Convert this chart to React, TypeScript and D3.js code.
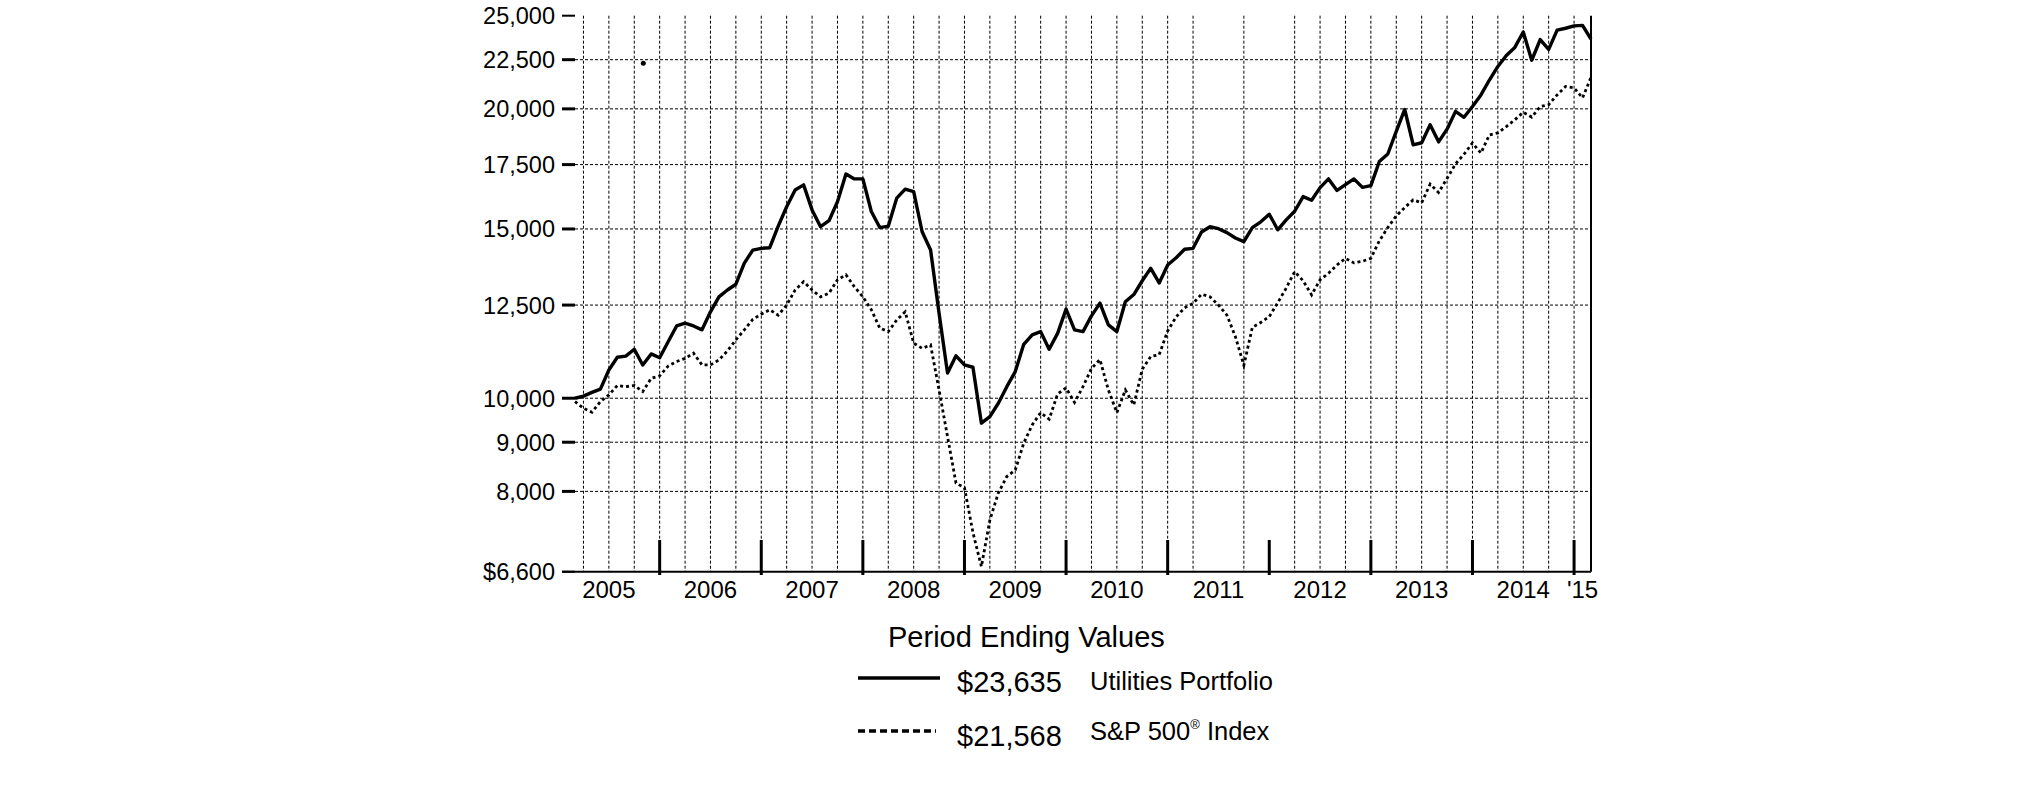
import React from "react";
import * as d3 from "d3";

// Monthly period-ending values, Feb 2005 .. Feb 2015 (121 months)
const startMonth = "2005-02";
const utilities: number[] = [
  10000, 10050, 10140, 10220, 10700, 11030, 11060, 11245, 10830, 11120, 11020,
  11450, 11890, 11970, 11890, 11780, 12300, 12750, 12960, 13140, 13820, 14260, 14320,
  14340, 15100, 15820, 16470, 16670, 15700, 15080, 15300, 16010, 17110, 16910, 16910,
  15640, 15050, 15100, 16150, 16500, 16400, 14900, 14260, 12260, 10620, 11070, 10830,
  10770, 9420, 9570, 9880, 10280, 10660, 11380, 11640, 11730, 11245, 11680, 12380,
  11780, 11730, 12180, 12560, 11920, 11730, 12600, 12820, 13250, 13650, 13180, 13760,
  14000, 14290, 14320, 14890, 15080, 15010, 14870, 14680, 14550, 15050, 15260, 15540,
  14970, 15330, 15650, 16210, 16070, 16560, 16910, 16450, 16680, 16910, 16570, 16640,
  17630, 17950, 18950, 19970, 18350, 18440, 19250, 18480, 19050, 19880, 19600, 20110,
  20680, 21430, 22140, 22730, 23170, 24040, 22470, 23610, 23060, 24150, 24260, 24400,
  24430, 23635,
];
const sp500: number[] = [
  9920, 9760, 9670, 9920, 10080, 10310, 10280, 10310, 10160, 10490, 10550,
  10800, 10920, 11000, 11140, 10830, 10830, 10960, 11200, 11500, 11780, 12080, 12230,
  12360, 12200, 12500, 12960, 13220, 12960, 12750, 12860, 13280, 13440, 13060, 12750,
  12360, 11830, 11730, 12060, 12300, 11410, 11270, 11360, 10200, 9120, 8160, 8070,
  7250, 6680, 7470, 7970, 8290, 8420, 8980, 9380, 9660, 9510, 10100, 10250,
  9900, 10280, 10740, 10970, 10200, 9660, 10200, 9840, 10720, 11050, 11100, 11750,
  12150, 12420, 12550, 12830, 12750, 12500, 12200, 11590, 10820, 11850, 11990, 12160,
  12570, 13020, 13540, 13250, 12810, 13280, 13490, 13760, 13980, 13830, 13880, 13980,
  14580, 15050, 15480, 15790, 16080, 15970, 16700, 16370, 16930, 17530, 17940, 18430,
  17990, 18790, 18880, 19170, 19480, 19840, 19610, 20110, 20200, 20680, 21100, 21030,
  20530, 21568,
];
const yTicks: number[] = [6600, 8000, 9000, 10000, 12500, 15000, 17500, 20000, 22500, 25000];
const yearLabels: string[] = ["2005", "2006", "2007", "2008", "2009", "2010", "2011", "2012", "2013", "2014", "'15"];
const missingGridMonths: string[] = ["2011-06", "2011-12"];
const legendTitle = "Period Ending Values";
const seriesNames: string[] = ["Utilities Portfolio", "S&P 500"];
const endValues: string[] = ["$23,635", "$21,568"];

const FONT = "Arial, 'Liberation Sans', Helvetica, sans-serif";

export default function App() {
  const W = 2026, H = 785;
  const left = 575, right = 1591, top = 15.7, bottom = 571.7;
  const n = utilities.length;
  const x = d3.scaleLinear().domain([0, n - 1]).range([left, right]);
  const y = d3.scaleLog().domain([6600, 25000]).range([bottom, top]);

  const [sy, sm] = startMonth.split("-").map(Number);
  const monthKey = (i: number) => {
    const t = sm - 1 + i;
    const yy = sy + Math.floor(t / 12);
    const mm = ((t % 12) + 12) % 12 + 1;
    return `${yy}-${String(mm).padStart(2, "0")}`;
  };
  const monthOf = (i: number) => ((sm - 1 + i) % 12 + 12) % 12 + 1;

  const idx = d3.range(n);
  const quarterIdx = idx.filter((i) => monthOf(i) % 3 === 0 && !missingGridMonths.includes(monthKey(i)));
  const yearEndIdx = idx.filter((i) => monthOf(i) === 12);
  const firstDec = idx.find((i) => monthOf(i) === 12)!;

  const line = d3.line<number>().x((_, i) => x(i)).y((d) => y(d));

  const fmt = (v: number) => (v === 6600 ? "$6,600" : d3.format(",")(v));

  return (
    <svg width={W} height={H} style={{ position: "absolute", left: 0, top: 0, background: "#fff" }}>
      <rect x={0} y={0} width={W} height={H} fill="#fff" />
      {quarterIdx.map((i) => (
        <line key={"vg" + i} x1={x(i)} x2={x(i)} y1={top} y2={bottom} stroke="#000" strokeWidth={1} strokeDasharray="3,2" />
      ))}
      {yTicks.filter((t) => t !== 6600 && t !== 25000).map((t) => (
        <line key={"hg" + t} x1={left} x2={right} y1={y(t)} y2={y(t)} stroke="#000" strokeWidth={1} strokeDasharray="3,2" />
      ))}
      {yTicks.map((t) => (
        <g key={"yt" + t}>
          <line x1={562} x2={left} y1={y(t)} y2={y(t)} stroke="#000" strokeWidth={t === 25000 || t === 6600 ? 2 : 3} />
          <text x={555} y={y(t)} dy="0.36em" textAnchor="end" fontFamily={FONT} fontSize={23.5} fill="#000">
            {fmt(t)}
          </text>
        </g>
      ))}
      <line x1={562} x2={right} y1={bottom} y2={bottom} stroke="#000" strokeWidth={2} />
      <line x1={right} x2={right} y1={top} y2={bottom} stroke="#000" strokeWidth={2} />
      {yearEndIdx.map((i) => (
        <line key={"ye" + i} x1={x(i)} x2={x(i)} y1={540} y2={575} stroke="#000" strokeWidth={3} />
      ))}
      {yearLabels.map((lab, k) => {
        const s = firstDec - 12 + 12 * k;
        const e = Math.min(s + 12, n - 1);
        return (
          <text key={lab} x={x((s + e) / 2)} y={598} textAnchor="middle" fontFamily={FONT} fontSize={24} fill="#000">
            {lab}
          </text>
        );
      })}
      <path d={line(sp500) || ""} fill="none" stroke="#000" strokeWidth={2.8} strokeDasharray="3,3" />
      <path d={line(utilities) || ""} fill="none" stroke="#000" strokeWidth={3.4} strokeLinejoin="round" />
      <circle cx={643.3} cy={63.3} r={2.5} fill="#000" />
      <text x={888} y={647} fontFamily={FONT} fontSize={29} fill="#000">{legendTitle}</text>
      <line x1={858} x2={940} y1={678} y2={678} stroke="#000" strokeWidth={3.5} />
      <text x={957} y={692} fontFamily={FONT} fontSize={29} fill="#000">{endValues[0]}</text>
      <text x={1090} y={690} fontFamily={FONT} fontSize={25.5} fill="#000">{seriesNames[0]}</text>
      <line x1={858} x2={936} y1={731} y2={731} stroke="#000" strokeWidth={3.5} strokeDasharray="7,4" />
      <text x={957} y={746} fontFamily={FONT} fontSize={29} fill="#000">{endValues[1]}</text>
      <text x={1090} y={740} fontFamily={FONT} fontSize={25.5} fill="#000">
        {seriesNames[1]}
        <tspan fontSize={13} dy={-11}>®</tspan>
        <tspan dy={11}> Index</tspan>
      </text>
    </svg>
  );
}
